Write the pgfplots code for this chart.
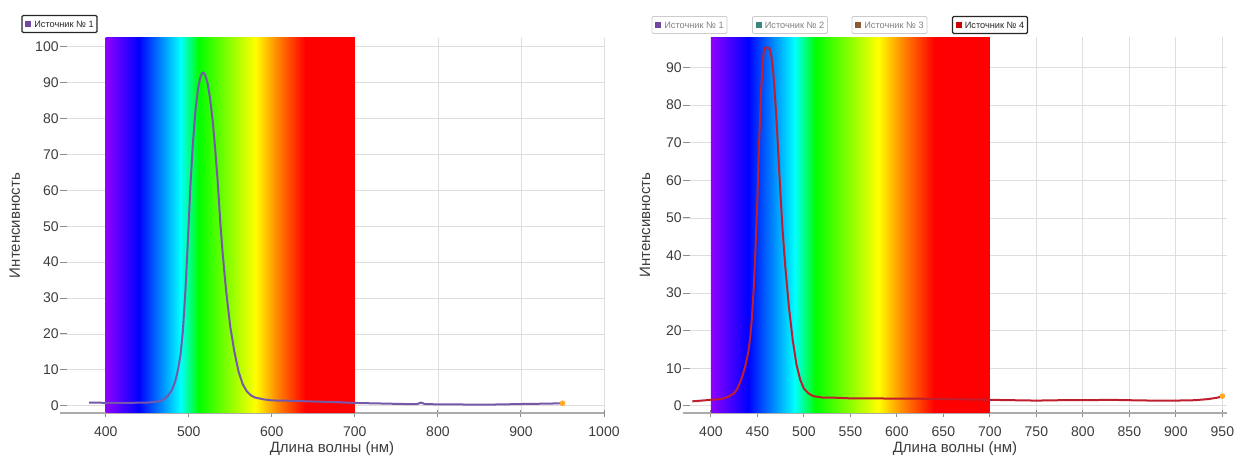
\documentclass[border=0pt]{standalone}
\usepackage{fontspec}
\setmainfont{Liberation Sans}
\usepackage{pgfplots}
\pgfplotsset{compat=1.18}

\definecolor{sViolet}{RGB}{143,0,255}
\definecolor{sBlue}{RGB}{0,0,255}
\definecolor{sCyan}{RGB}{0,255,255}
\definecolor{sGreen}{RGB}{0,255,0}
\definecolor{sYellow}{RGB}{255,255,0}
\definecolor{sOrange}{RGB}{255,140,0}
\definecolor{sRed}{RGB}{255,0,0}
\definecolor{src1}{RGB}{112,72,160}
\definecolor{src2}{RGB}{60,135,125}
\definecolor{src3}{RGB}{140,90,50}
\definecolor{src4}{RGB}{205,0,0}
\definecolor{curve1}{RGB}{118,88,168}
\definecolor{curve4}{RGB}{190,30,45}
\definecolor{txt}{RGB}{60,60,60}
\definecolor{gridc}{RGB}{222,222,222}
\definecolor{endc}{RGB}{255,170,40}

\pgfplotsset{
  spec/.style={
    scale only axis,
    anchor=south west,
    axis x line=bottom,
    axis y line=left,
    x axis line style={-, draw=black!33, line width=1pt},
    y axis line style={draw=none},
    grid=major,
    grid style={draw=gridc, line width=0.4pt},
    tick align=inside,
    major tick length=3.5pt,
    y tick style={draw=black!45, line width=0.5pt},
    x tick style={draw=black!45, line width=0.5pt, yshift=-2pt},
    tick label style={font=\fontsize{7}{8}\selectfont, text=txt},
    y tick label style={inner sep=0.5pt},
    x tick label style={yshift=-3.5pt},
    /pgf/number format/assume math mode=true,
    /pgf/number format/set thousands separator={},
    label style={font=\fontsize{7.5}{9}\selectfont, text=txt},
    xlabel={Длина волны (нм)},
    ylabel={Интенсивность},
    xlabel style={at={(axis description cs:0.5,0)}, anchor=center, yshift=-18pt},
  }
}

\newcommand{\spectrum}[2]{%
  \shade[left color=sViolet, right color=sBlue] (axis cs:400,#1) rectangle (axis cs:440.3,#2);
  \shade[left color=sBlue, right color=sCyan] (axis cs:440,#1) rectangle (axis cs:490.3,#2);
  \shade[left color=sCyan, right color=sGreen] (axis cs:490,#1) rectangle (axis cs:512.3,#2);
  \shade[left color=sGreen, right color=sYellow] (axis cs:512,#1) rectangle (axis cs:580.3,#2);
  \shade[left color=sYellow, right color=sOrange] (axis cs:580,#1) rectangle (axis cs:605.3,#2);
  \shade[left color=sOrange, right color=sRed] (axis cs:605,#1) rectangle (axis cs:640.3,#2);
  \fill[sRed] (axis cs:640,#1) rectangle (axis cs:700,#2);
}

\begin{document}
\begin{tikzpicture}
\path[use as bounding box] (0pt,0pt) rectangle (617.5pt,229.5pt);

% ---------------- left chart ----------------
\begin{axis}[spec,
  at={(30pt,23pt)}, width=272pt, height=187.5pt,
  xmin=345, xmax=1000, ymin=-2, ymax=102.4,
  xtick={400,500,...,1000}, ytick={0,10,...,100},
  ylabel style={at={(axis description cs:-0.083,0.5)}, anchor=center},
]
\spectrum{-3}{104}
\addplot[curve1, line width=1pt, line join=round] coordinates {
(380,0.9)(390,0.9)(400,0.8)(410,0.8)(420,0.8)(430,0.8)(440,0.9)(450,0.9)(455,1.0)(460,1.1)(465,1.3)(470,1.8)(475,2.8)(480,4.5)(484,7)(487,10)(490,14)(493,21)(496,32)(499,46)(502,61)(505,73)(508,82)(511,88)(514,91.5)(516,92.6)(517,92.8)(518,92.7)(520,92)(523,89.5)(526,85)(529,79)(532,71)(535,62)(538,51)(541,42)(545,32)(550,22)(555,15)(560,9.5)(565,6)(570,4)(575,2.9)(580,2.3)(590,1.8)(600,1.5)(620,1.4)(650,1.2)(680,1.0)(700,0.8)(720,0.7)(740,0.6)(760,0.5)(775,0.5)(780,0.9)(784,0.5)(800,0.4)(820,0.4)(850,0.3)(880,0.4)(900,0.5)(930,0.6)(950,0.7)
};
\addplot[only marks, mark=*, mark size=1.2pt, endc] coordinates {(950,0.7)};
\end{axis}

% ---------------- right chart ----------------
\begin{axis}[spec,
  at={(341.5pt,23pt)}, width=272pt, height=187.75pt,
  xmin=370, xmax=955, ymin=-1.9, ymax=98,
  xtick={400,450,...,950}, ytick={0,10,...,90},
  ylabel style={at={(axis description cs:-0.07,0.5)}, anchor=center},
]
\spectrum{-3}{100}
\addplot[curve4, line width=1pt, line join=round] coordinates {
(380,1.2)(390,1.4)(400,1.6)(410,1.8)(415,2.1)(420,2.6)(425,3.4)(428,4.4)(431,6.0)(434,8.0)(437,10.6)(440,14)(442,17.5)(444,23)(446,31)(448,42)(450,55)(452,71)(454,84)(456,92)(457,94.5)(458,95.2)(460,95.3)(463,95.1)(465,93)(467,89)(469,82)(471,74)(474,60)(477,47)(480,37)(484,26)(488,17.5)(492,11)(496,7)(500,4.6)(505,3.3)(510,2.6)(520,2.2)(530,2.2)(540,2.1)(550,2.0)(575,2.0)(600,1.9)(625,1.9)(650,1.8)(675,1.7)(700,1.6)(725,1.5)(750,1.4)(775,1.5)(800,1.5)(830,1.6)(850,1.5)(875,1.4)(900,1.4)(920,1.5)(935,1.8)(945,2.2)(950,2.6)
};
\addplot[only marks, mark=*, mark size=1.2pt, endc] coordinates {(950,2.6)};
\end{axis}

% ---------------- legends ----------------
\tikzset{leg/.style={rounded corners=0.6pt, inner sep=0pt, minimum width=37.5pt, minimum height=8.5pt, font=\fontsize{4.6}{5}\selectfont}}
\node[leg, draw=black!85, line width=0.6pt, text=black!85] at (29.75pt,217.5pt)
  {\textcolor{src1}{\rule{3pt}{3pt}}\hspace{1.5pt}Источник № 1};
\node[leg, draw=black!20, line width=0.4pt, text=black!50] at (344.75pt,217pt)
  {\textcolor{src1}{\rule{3pt}{3pt}}\hspace{1.5pt}Источник № 1};
\node[leg, draw=black!20, line width=0.4pt, text=black!50] at (395pt,217pt)
  {\textcolor{src2}{\rule{3pt}{3pt}}\hspace{1.5pt}Источник № 2};
\node[leg, draw=black!20, line width=0.4pt, text=black!50] at (444.75pt,217pt)
  {\textcolor{src3}{\rule{3pt}{3pt}}\hspace{1.5pt}Источник № 3};
\node[leg, draw=black!85, line width=0.6pt, text=black!85] at (495pt,217pt)
  {\textcolor{src4}{\rule{3pt}{3pt}}\hspace{1.5pt}Источник № 4};
\end{tikzpicture}
\end{document}
